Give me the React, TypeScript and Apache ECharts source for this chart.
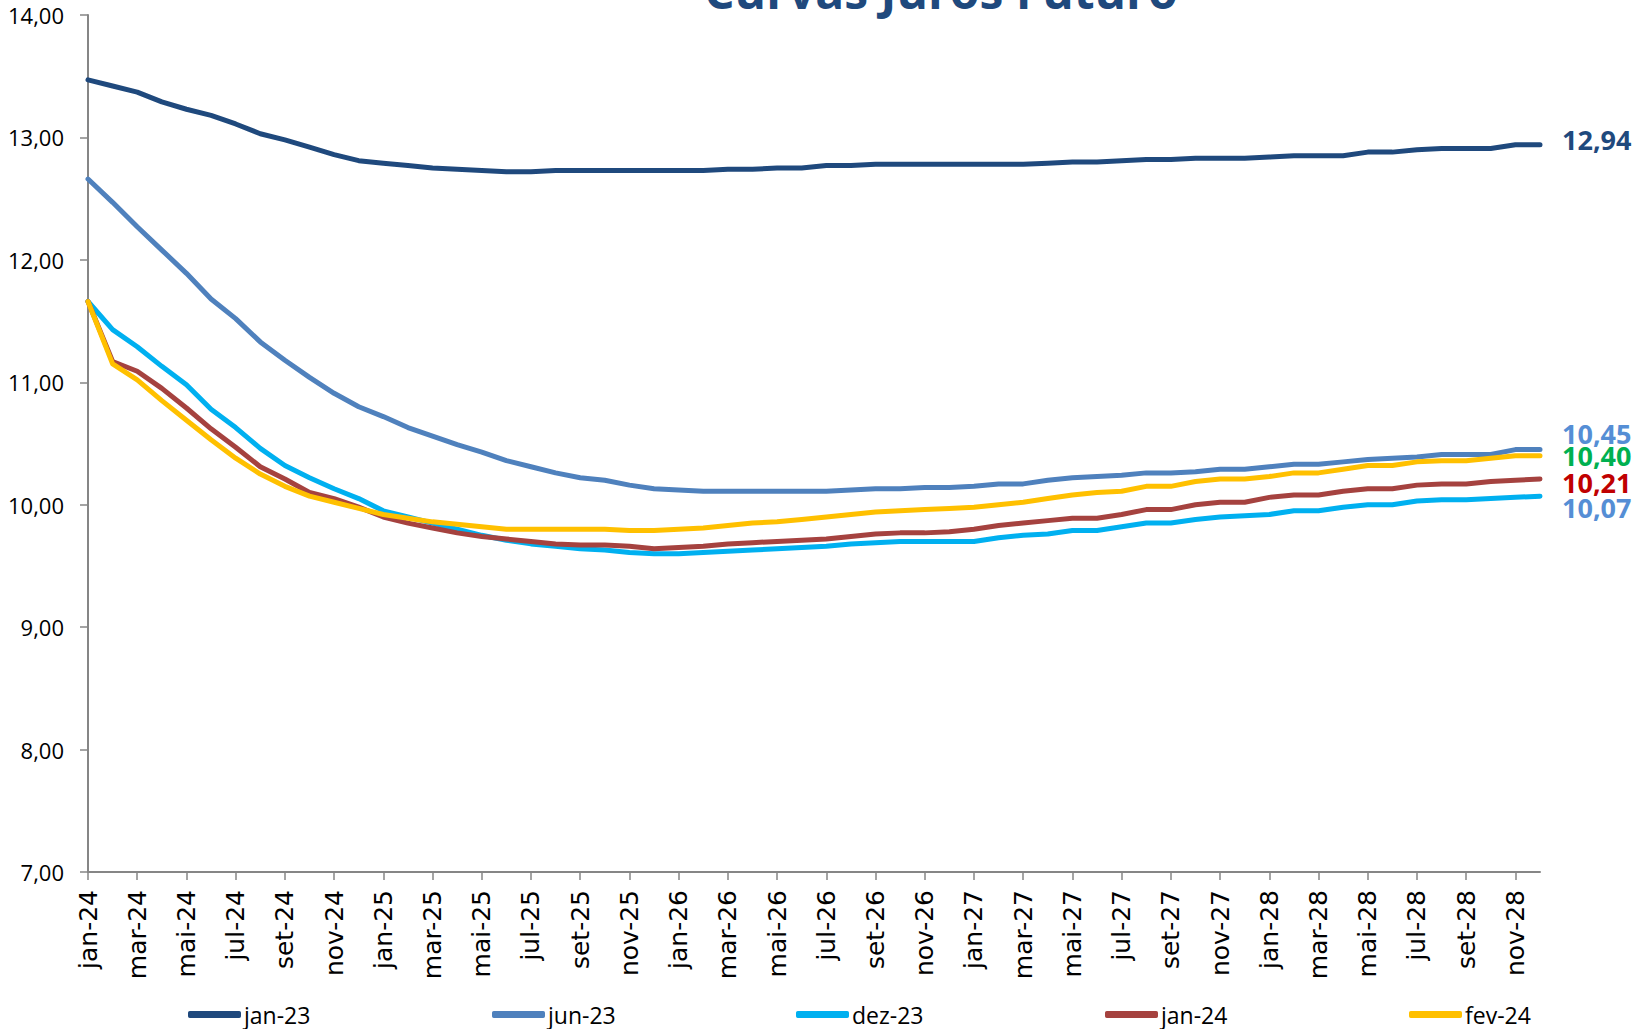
import React, { useEffect, useRef } from "react";
import * as echarts from "echarts";

const categories = [
  "jan-24","fev-24","mar-24","abr-24","mai-24","jun-24","jul-24","ago-24","set-24","out-24","nov-24","dez-24",
  "jan-25","fev-25","mar-25","abr-25","mai-25","jun-25","jul-25","ago-25","set-25","out-25","nov-25","dez-25",
  "jan-26","fev-26","mar-26","abr-26","mai-26","jun-26","jul-26","ago-26","set-26","out-26","nov-26","dez-26",
  "jan-27","fev-27","mar-27","abr-27","mai-27","jun-27","jul-27","ago-27","set-27","out-27","nov-27","dez-27",
  "jan-28","fev-28","mar-28","abr-28","mai-28","jun-28","jul-28","ago-28","set-28","out-28","nov-28","dez-28",
];

const jan23 = [
  13.47, 13.42, 13.37, 13.29, 13.23, 13.18, 13.11, 13.03, 12.98, 12.92,
  12.86, 12.81, 12.79, 12.77, 12.75, 12.74, 12.73, 12.72, 12.72, 12.73,
  12.73, 12.73, 12.73, 12.73, 12.73, 12.73, 12.74, 12.74, 12.75, 12.75,
  12.77, 12.77, 12.78, 12.78, 12.78, 12.78, 12.78, 12.78, 12.78, 12.79,
  12.80, 12.80, 12.81, 12.82, 12.82, 12.83, 12.83, 12.83, 12.84, 12.85,
  12.85, 12.85, 12.88, 12.88, 12.90, 12.91, 12.91, 12.91, 12.94, 12.94,
];
const jun23 = [
  12.66, 12.47, 12.27, 12.08, 11.89, 11.68, 11.52, 11.33, 11.18, 11.04,
  10.91, 10.80, 10.72, 10.63, 10.56, 10.49, 10.43, 10.36, 10.31, 10.26,
  10.22, 10.20, 10.16, 10.13, 10.12, 10.11, 10.11, 10.11, 10.11, 10.11,
  10.11, 10.12, 10.13, 10.13, 10.14, 10.14, 10.15, 10.17, 10.17, 10.20,
  10.22, 10.23, 10.24, 10.26, 10.26, 10.27, 10.29, 10.29, 10.31, 10.33,
  10.33, 10.35, 10.37, 10.38, 10.39, 10.41, 10.41, 10.41, 10.45, 10.45,
];
const dez23 = [
  11.66, 11.43, 11.29, 11.13, 10.98, 10.78, 10.63, 10.46, 10.32, 10.22,
  10.13, 10.05, 9.95, 9.90, 9.85, 9.80, 9.75, 9.71, 9.68, 9.66,
  9.64, 9.63, 9.61, 9.60, 9.60, 9.61, 9.62, 9.63, 9.64, 9.65,
  9.66, 9.68, 9.69, 9.70, 9.70, 9.70, 9.70, 9.73, 9.75, 9.76,
  9.79, 9.79, 9.82, 9.85, 9.85, 9.88, 9.90, 9.91, 9.92, 9.95,
  9.95, 9.98, 10.00, 10.00, 10.03, 10.04, 10.04, 10.05, 10.06, 10.07,
];
const jan24 = [
  11.66, 11.17, 11.09, 10.95, 10.79, 10.62, 10.47, 10.31, 10.21, 10.10,
  10.05, 9.98, 9.90, 9.85, 9.81, 9.77, 9.74, 9.72, 9.70, 9.68,
  9.67, 9.67, 9.66, 9.64, 9.65, 9.66, 9.68, 9.69, 9.70, 9.71,
  9.72, 9.74, 9.76, 9.77, 9.77, 9.78, 9.80, 9.83, 9.85, 9.87,
  9.89, 9.89, 9.92, 9.96, 9.96, 10.00, 10.02, 10.02, 10.06, 10.08,
  10.08, 10.11, 10.13, 10.13, 10.16, 10.17, 10.17, 10.19, 10.20, 10.21,
];
const fev24 = [
  11.66, 11.15, 11.02, 10.85, 10.69, 10.53, 10.38, 10.25, 10.15, 10.07,
  10.02, 9.97, 9.92, 9.89, 9.86, 9.84, 9.82, 9.80, 9.80, 9.80,
  9.80, 9.80, 9.79, 9.79, 9.80, 9.81, 9.83, 9.85, 9.86, 9.88,
  9.90, 9.92, 9.94, 9.95, 9.96, 9.97, 9.98, 10.00, 10.02, 10.05,
  10.08, 10.10, 10.11, 10.15, 10.15, 10.19, 10.21, 10.21, 10.23, 10.26,
  10.26, 10.29, 10.32, 10.32, 10.35, 10.36, 10.36, 10.38, 10.40, 10.40,
];

const seriesNames = ["jan-23", "jun-23", "dez-23", "jan-24", "fev-24"];
const seriesData = [jan23, jun23, dez23, jan24, fev24];
const lineColors = ["#1F497D", "#4F81BD", "#00B0F0", "#A5423F", "#FFC000"];
// end-label colours and vertical nudges, per series (same order as seriesNames)
const endLabelColors = ["#1F497D", "#558ED5", "#558ED5", "#C00000", "#00B050"];
const endLabelOffsets = [-5, -16, 11, 3, 0];
const legendLefts = [188, 492, 796, 1105, 1409];

const fmt = (v: number) => v.toFixed(2).replace(".", ",");

export default function App() {
  const ref = useRef<HTMLDivElement>(null);
  useEffect(() => {
    if (!ref.current) return;
    const chart = echarts.init(ref.current, null, { renderer: "svg" });
    const series = seriesNames.map((name, i) => ({
      name,
      type: "line",
      data: seriesData[i],
      showSymbol: false,
      symbol: "none",
      lineStyle: { width: 5, color: lineColors[i], cap: "round", join: "round" },
      itemStyle: { color: lineColors[i] },
      z: 2 + i,
      endLabel: {
        show: true,
        formatter: (p: any) => fmt(p.value),
        color: endLabelColors[i],
        fontSize: 27,
        lineHeight: 22,
        fontWeight: "bold",
        fontFamily: "Open Sans",
        distance: 22,
        offset: [0, endLabelOffsets[i]],
      },
    }));

    const legends = seriesNames.map((name, i) => ({
      data: [name],
      left: legendLefts[i],
      top: 1003,
      padding: 0,
      itemWidth: 53,
      itemHeight: 7,
      icon: "roundRect",
      textStyle: {
        fontSize: 23,
        lineHeight: 20,
        color: "#000",
        fontFamily: "Open Sans",
        padding: [0, 0, 0, -2],
      },
    }));

    chart.setOption({
      animation: false,
      backgroundColor: "#fff",
      grid: { left: 88, right: 99, top: 15, bottom: 157, containLabel: false },
      legend: legends,
      graphic: [
        {
          type: "text",
          left: 944 - 240,
          top: -34,
          style: {
            text: "Curvas Juros Futuro",
            fill: "#1F497D",
            font: "bold 48px 'Open Sans'",
            textAlign: "left",
          },
        },
      ],
      xAxis: {
        type: "category",
        data: categories,
        boundaryGap: false,
        axisLine: { lineStyle: { color: "#868686", width: 2 } },
        axisTick: { show: true, interval: 1, length: 8, lineStyle: { color: "#868686", width: 1.5 } },
        axisLabel: {
          interval: 1,
          rotate: 90,
          margin: 18,
          fontSize: 25,
          fontFamily: "DejaVu Sans",
          color: "#000",
        },
        splitLine: { show: false },
      },
      yAxis: {
        type: "value",
        min: 7,
        max: 14,
        interval: 1,
        axisLine: { show: true, lineStyle: { color: "#868686", width: 2 } },
        axisTick: { show: true, length: 8, lineStyle: { color: "#868686", width: 1.5 } },
        axisLabel: {
          formatter: (v: number) => fmt(v),
          margin: 24,
          fontSize: 22,
          fontFamily: "Open Sans",
          color: "#000",
        },
        splitLine: { show: false },
      },
      series,
    });
    return () => chart.dispose();
  }, []);
  return (
    <div
      ref={ref}
      style={{ position: "fixed", left: 0, top: 0, width: 1639, height: 1029 }}
    />
  );
}
